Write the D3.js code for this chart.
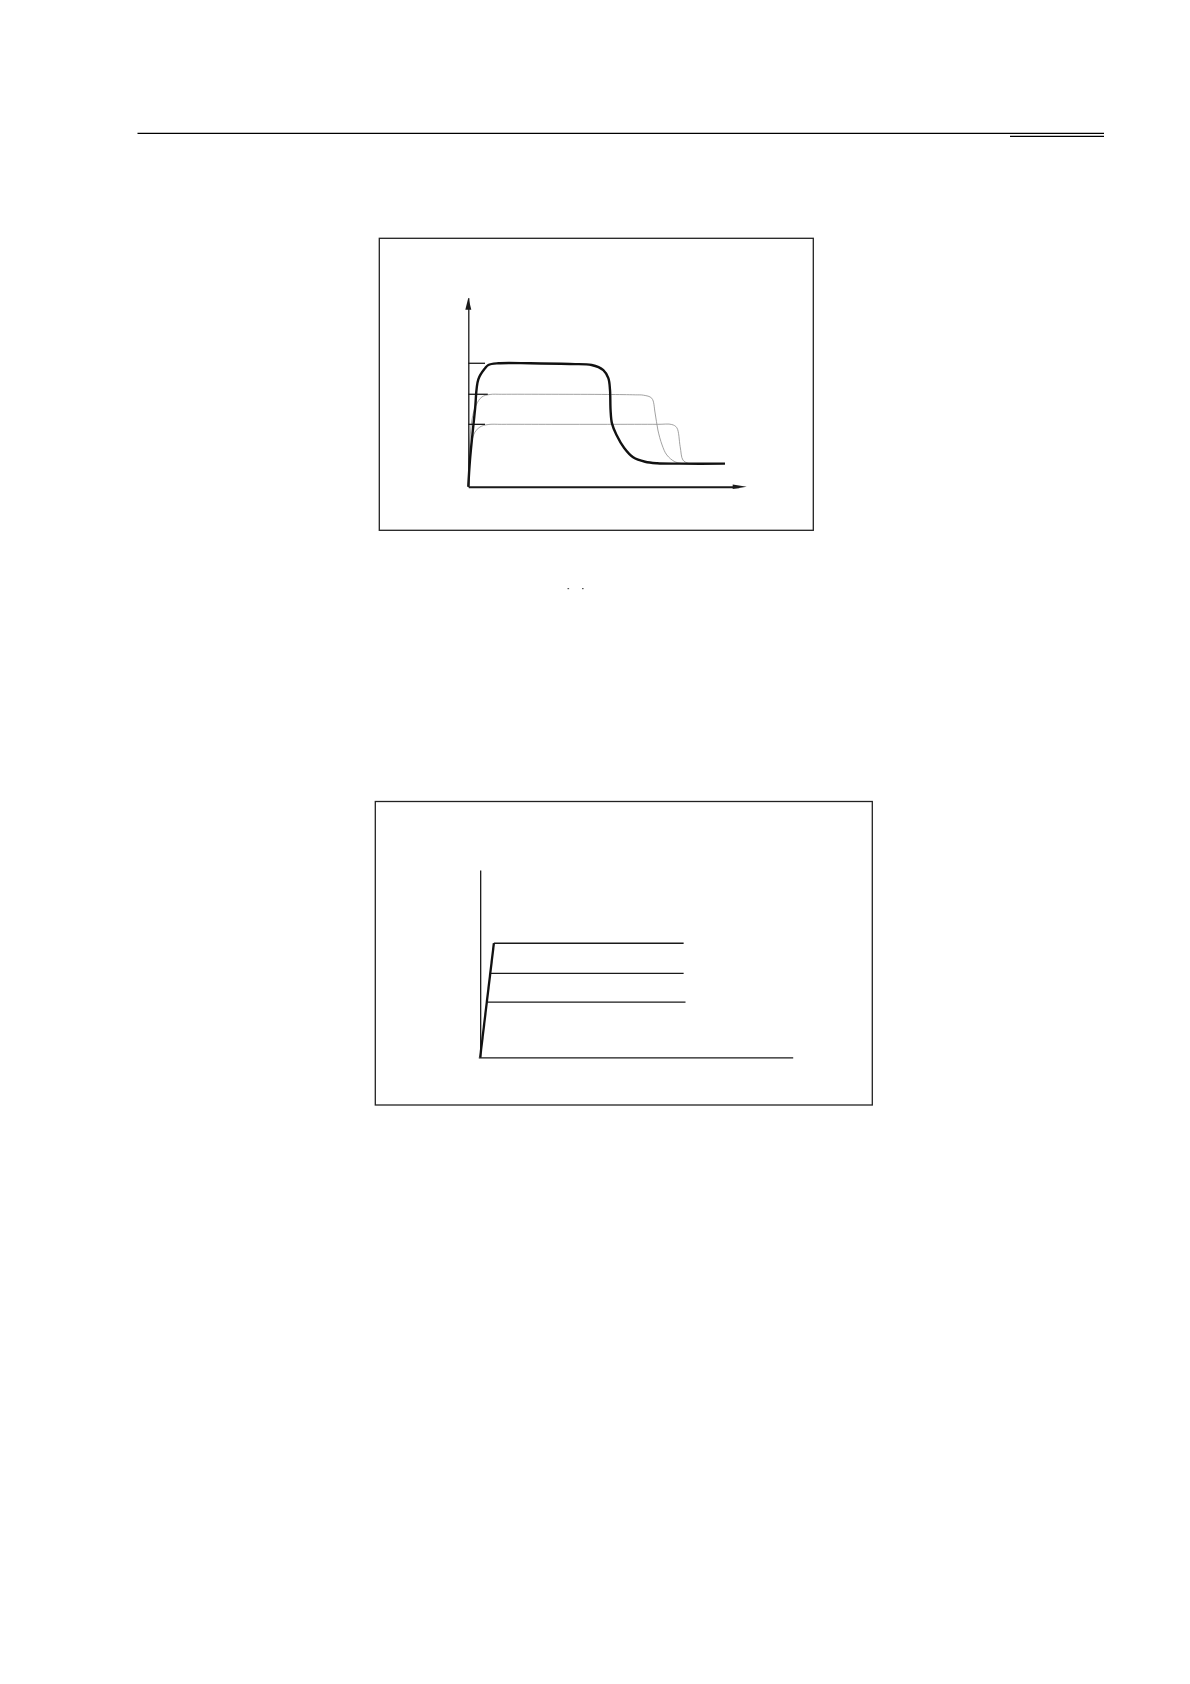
<!DOCTYPE html>
<html>
<head>
<meta charset="utf-8">
<script src="https://cdn.jsdelivr.net/npm/d3@7"></script>
<style>
  body { margin: 0; background: #fff; }
  svg { display: block; }
</style>
</head>
<body>
<svg id="page" width="1190" height="1684"></svg>
<script>
// ---- chart 1 : three output curves (time units 0..100, level 0..100) ----
const thickX = [0, 0.6, 2.4, 3.6, 6.0, 7.2, 10.8, 22.2, 36.5, 44.3, 48.5, 50.3, 50.9, 51.1, 51.6, 53.2, 56.0, 59.2, 63.5, 67.8, 76.0, 92.2];
const thickY = [0, 14.1, 40.6, 56.8, 62.6, 64.4, 65.3, 65.3, 64.9, 64.4, 61.7, 57.4, 51.2, 40.6, 33.5, 27.5, 20.5, 15.6, 13.2, 12.4, 12.2, 12.2];

const midX = [0, 0.4, 1.3, 2.8, 4.9, 7.8, 12.0, 30.0, 50.0, 60.0, 63.0, 65.9, 67.1, 68.1, 69.6, 71.3, 74.2, 77.1];
const midY = [0, 19.4, 35.3, 43.2, 47.5, 48.8, 48.9, 48.9, 48.8, 48.6, 48.4, 46.8, 39.0, 30.0, 22.1, 16.8, 13.2, 12.2];

const lowX = [0, 0.4, 1.2, 2.4, 4.2, 7.1, 12.0, 30.0, 50.0, 68.0, 73.1, 74.9, 76.1, 77.1, 78.9, 79.6];
const lowY = [0, 13.1, 23.7, 28.9, 31.6, 32.9, 33.0, 33.0, 33.0, 33.0, 32.9, 31.2, 21.2, 14.1, 12.4, 12.2];

// short level marks on the y axis
const levelY1 = [65.3, 48.9, 33.0];
const levelEnd1 = [6.0, 7.0, 6.0];

// ---- chart 2 : ramp and three flat levels ----
const rampX = [0, 4.39];
const rampY = [0, 60.9];
const levelY2 = [60.9, 44.8, 29.5];
const levelStart2 = [4.39, 3.33, 2.37];
const levelEnd2 = [65.1, 65.1, 65.7];

const svg = d3.select("#page");
const ink = "#1a1a1a";

// page header rules
svg.append("line").attr("x1", 137.5).attr("x2", 1104).attr("y1", 133.3).attr("y2", 133.3)
  .attr("stroke", "#000").attr("stroke-width", 1.3);
svg.append("line").attr("x1", 1010).attr("x2", 1104).attr("y1", 136.3).attr("y2", 136.3)
  .attr("stroke", "#000").attr("stroke-width", 1.3);

// frames
function frame(x0, y0, x1, y1) {
  svg.append("rect").attr("x", x0).attr("y", y0).attr("width", x1 - x0).attr("height", y1 - y0)
    .attr("fill", "none").attr("stroke", "#222").attr("stroke-width", 1.3);
}
frame(379.3, 238.3, 813.3, 530.3);
frame(375.3, 801.5, 872.3, 1105);

// stray specks under chart 1
[567.5, 582].forEach(x => {
  svg.append("rect").attr("x", x).attr("y", 588).attr("width", 1.6).attr("height", 1.2).attr("fill", "#555");
});

// ================= chart 1 =================
const x1 = d3.scaleLinear().domain([0, 100]).range([468.3, 746.7]);
const y1 = d3.scaleLinear().domain([0, 100]).range([486.7, 297.7]);
const g1 = svg.append("g");

const line1 = d3.line().x(d => x1(d[0])).y(d => y1(d[1])).curve(d3.curveCatmullRom.alpha(0.5));

g1.append("path").datum(d3.zip(midX, midY)).attr("d", line1)
  .attr("fill", "none").attr("stroke", "#8a8a8a").attr("stroke-width", 0.8);
g1.append("path").datum(d3.zip(lowX, lowY)).attr("d", line1)
  .attr("fill", "none").attr("stroke", "#8a8a8a").attr("stroke-width", 0.8);

// level marks
g1.selectAll("line.lvl").data(levelY1).join("line").attr("class", "lvl")
  .attr("x1", x1(0)).attr("x2", (d, i) => x1(levelEnd1[i]))
  .attr("y1", d => y1(d)).attr("y2", d => y1(d))
  .attr("stroke", ink).attr("stroke-width", 1.3);

g1.append("path").datum(d3.zip(thickX, thickY)).attr("d", line1)
  .attr("fill", "none").attr("stroke", "#111").attr("stroke-width", 2.4)
  .attr("stroke-linejoin", "round");

// axes
const yAx1 = g1.append("g").attr("transform", `translate(${x1(0)},0)`)
  .call(d3.axisLeft(y1).ticks(0).tickSizeOuter(0));
yAx1.select(".domain").attr("stroke", ink).attr("stroke-width", 1.3);
const xAx1 = g1.append("g").attr("transform", `translate(0,${y1(0)})`)
  .call(d3.axisBottom(x1.copy().range([x1(0), x1(100) - 8])).ticks(0).tickSizeOuter(0));
xAx1.select(".domain").attr("stroke", ink).attr("stroke-width", 2);

// arrow heads
g1.append("path")
  .attr("d", `M${x1(0)},${y1(100)} L${x1(0) - 3},${y1(100) + 12} L${x1(0) + 3},${y1(100) + 12}Z`)
  .attr("fill", ink);
g1.append("path")
  .attr("d", `M${x1(100)},${y1(0)} L${x1(100) - 14},${y1(0) - 2.2} L${x1(100) - 14},${y1(0) + 2.2}Z`)
  .attr("fill", ink);

// ================= chart 2 =================
const x2 = d3.scaleLinear().domain([-0.6, 100]).range([478.3, 792.7]);
const y2 = d3.scaleLinear().domain([0, 100]).range([1057.3, 870]);
const g2 = svg.append("g");

const yAx2 = g2.append("g").attr("transform", `translate(${x2(0)},0)`)
  .call(d3.axisLeft(y2).ticks(0).tickSizeOuter(0));
yAx2.select(".domain").attr("stroke", ink).attr("stroke-width", 1.3);
const xAx2 = g2.append("g").attr("transform", `translate(0,${y2(0)})`)
  .call(d3.axisBottom(x2).ticks(0).tickSizeOuter(0));
xAx2.select(".domain").attr("stroke", ink).attr("stroke-width", 1.3);

g2.selectAll("line.lvl").data(levelY2).join("line").attr("class", "lvl")
  .attr("x1", (d, i) => x2(levelStart2[i])).attr("x2", (d, i) => x2(levelEnd2[i]))
  .attr("y1", d => y2(d)).attr("y2", d => y2(d))
  .attr("stroke", ink).attr("stroke-width", 1.3);

g2.append("path").datum(d3.zip(rampX, rampY))
  .attr("d", d3.line().x(d => x2(d[0])).y(d => y2(d[1])))
  .attr("fill", "none").attr("stroke", "#111").attr("stroke-width", 2.3);
</script>
</body>
</html>
